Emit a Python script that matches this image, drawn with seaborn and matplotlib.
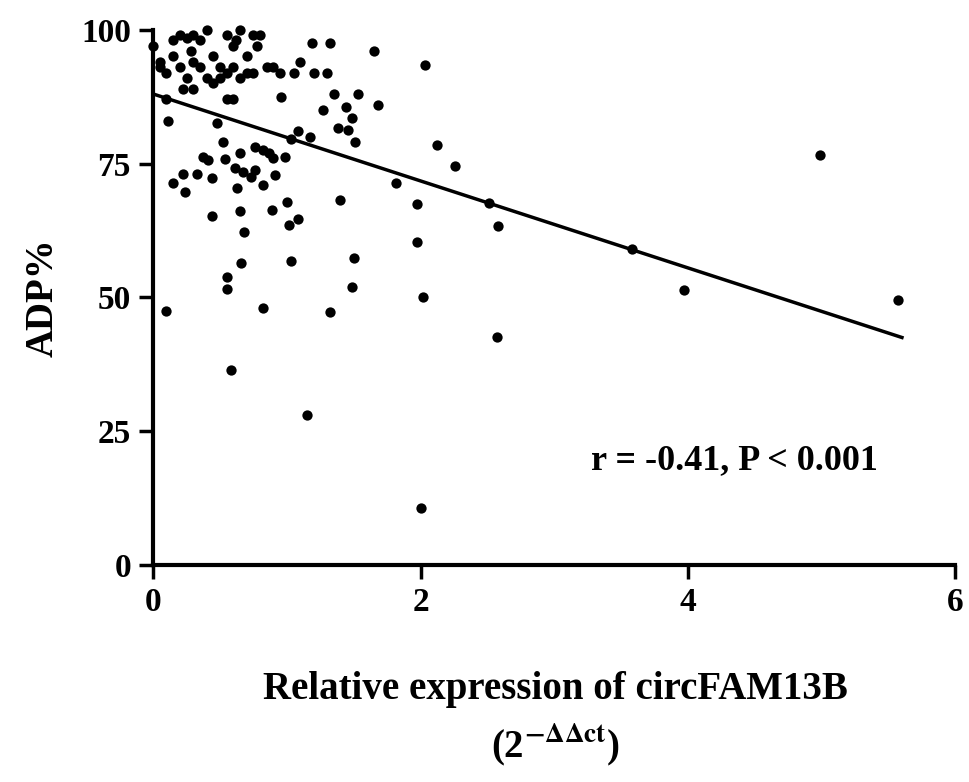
import matplotlib
matplotlib.use("Agg")
import matplotlib.pyplot as plt
import seaborn as sns
import pandas as pd

expr = [0.0,0.05,0.1,0.15,0.2,0.25,0.3,0.35,0.4,0.55,0.6,0.65,0.75,0.8,0.15,0.2,0.25,0.3,0.35,0.4,
        0.45,0.5,0.55,0.6,0.65,0.7,0.75,0.78,0.85,0.9,0.22,0.3,0.45,0.5,0.7,0.1,0.55,0.95,1.05,1.1,
        1.2,1.3,1.19,1.32,1.65,1.68,1.27,1.35,1.53,1.44,1.49,1.38,1.46,1.51,1.08,1.03,1.17,0.11,0.48,0.6,
        0.96,2.03,1.82,0.15,0.22,0.24,0.33,0.44,0.37,0.41,0.52,0.54,0.65,0.61,0.67,0.73,0.76,0.63,0.76,0.82,
        0.87,0.9,0.99,0.91,0.82,1.4,1.0,0.89,0.65,0.44,1.08,1.02,0.68,0.66,1.03,1.5,0.55,0.55,1.49,0.1,
        0.82,1.32,0.58,1.15,2.0,2.02,1.97,1.97,2.12,2.26,2.51,2.58,2.57,3.58,3.97,4.99,5.57,0.05,0.28,0.62]
adp = [97,93,92,98,99,98.5,99,98,100,99,97,100,99,99,95,93,91,94,93,91,
       95,93,92,93,91,95,92,97,93,93,89,89,90,91,92,87,87,92,92,94,
       92,92,97.5,97.6,96,86,85,88,88,85.6,83.5,81.7,81.3,79,81,79.5,80,83,82.6,87,
       87.5,93.5,71.4,71.4,73,69.7,73,72.3,76.3,75.7,79,75.9,77,74.2,73.5,72.5,73.8,70.5,78,77.6,
       77,76,76.3,72.9,71,68.2,67.9,66.4,66.2,65.2,64.7,63.6,62.3,56.4,56.8,57.3,53.8,51.6,52,47.5,
       48,47.3,36.4,28,10.6,50,60.4,67.5,78.5,74.6,67.7,63.4,42.6,59,51.3,76.6,49.5,94,96,98]
fit_x = [0.0, 5.6]
fit_y = [88.0, 42.5]
xticks = [0, 2, 4, 6]
yticks = [0, 25, 50, 75, 100]

plt.rcParams["font.family"] = "Liberation Serif"
plt.rcParams["font.weight"] = "bold"
plt.rcParams["mathtext.fontset"] = "stix"

fig = plt.figure(figsize=(9.69, 7.82), dpi=100)
ax = fig.add_axes([0.158, 0.2775, 0.828, 0.6845])
df = pd.DataFrame({"x": expr, "y": adp})
sns.scatterplot(data=df, x="x", y="y", ax=ax, color="black", s=55, edgecolor="black", linewidth=0, clip_on=False, zorder=3)
sns.lineplot(x=fit_x, y=fit_y, ax=ax, color="black", linewidth=2.5)
ax.set_xlim(0, 6)
ax.set_ylim(0, 100)
ax.set_xticks(xticks)
ax.set_yticks(yticks)
ax.tick_params(labelsize=24, width=2.5, length=10, direction="out", pad=6)
for lab in ax.get_xticklabels() + ax.get_yticklabels():
    lab.set_fontweight("bold")
for s in ["top", "right"]:
    ax.spines[s].set_visible(False)
for s in ["left", "bottom"]:
    ax.spines[s].set_linewidth(3)
ax.set_xlabel("")
ax.set_ylabel("ADP%", fontsize=28, fontweight="bold", labelpad=14)
fig.text(0.573, 0.118, "Relative expression of circFAM13B", ha="center", va="center", fontsize=28, fontweight="bold")
fig.text(0.573, 0.048, r"(2$^{\mathbf{-\Delta\Delta ct}}$)", ha="center", va="center", fontsize=28, fontweight="bold")
ax.text(4.35, 19.5, "r = -0.41, P < 0.001", ha="center", va="center", fontsize=26, fontweight="bold")
fig.savefig("out.png", dpi=100)
